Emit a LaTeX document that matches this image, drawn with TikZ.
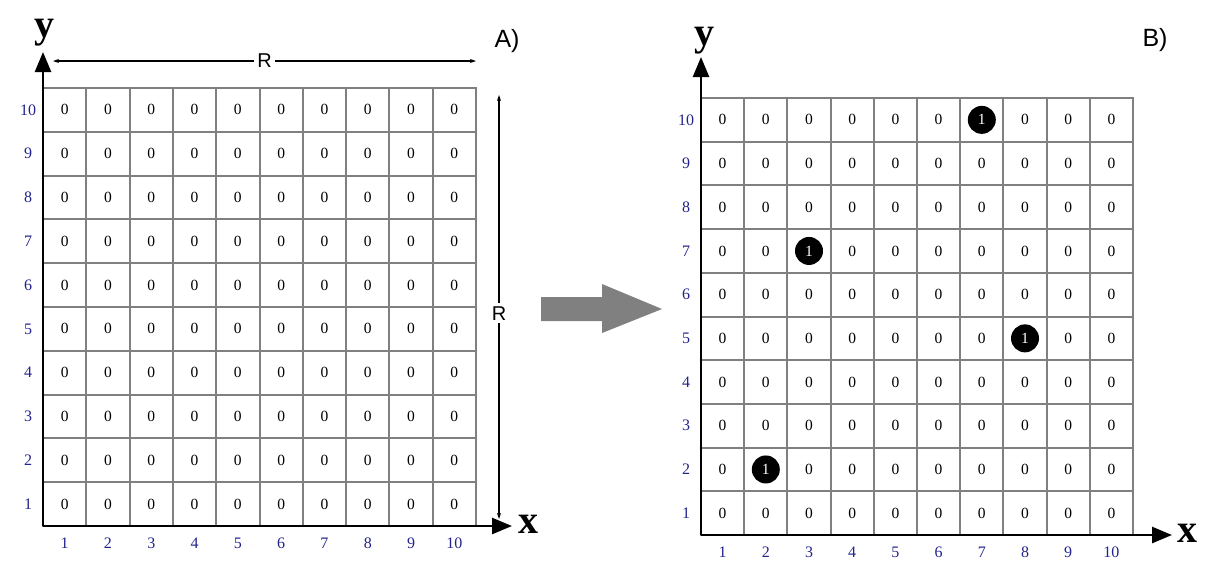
\documentclass[tikz,border=0pt]{standalone}
\usepackage{fontspec}
\setmainfont{Liberation Serif}
\newfontfamily\arialfont{Liberation Sans}
\usepackage{tikz}
\usetikzlibrary{positioning, arrows.meta}
\definecolor{gridgray}{RGB}{128,128,128}
\definecolor{ticknavy}{RGB}{35,35,140}

\begin{document}
\begin{tikzpicture}[x=1pt,y=-1pt,>=Stealth,semithick]
\tikzstyle{cellbox}=[draw=gridgray,line width=2pt,minimum width=43.3pt,minimum height=43.7pt,inner sep=0pt,font=\fontsize{15.5}{15.5}\selectfont]
\tikzstyle{onedot}=[circle,fill=black,text=white,minimum size=28pt,inner sep=0pt,font=\fontsize{15.5}{15.5}\selectfont]
\tikzstyle{ticklabel}=[text=ticknavy,font=\fontsize{16}{16}\selectfont]
\tikzstyle{axisline}=[line width=2.6pt,-{Triangle[width=16pt,length=20pt]}]
\tikzstyle{axislabel}=[font=\fontsize{40}{40}\selectfont\bfseries]
\tikzstyle{dimline}=[line width=1.1pt,{Stealth[length=6pt,width=4pt]}-{Stealth[length=6pt,width=4pt]}]
\tikzstyle{rlabel}=[fill=white,inner sep=3pt,font=\arialfont\fontsize{20}{20}\selectfont]
\tikzstyle{panellabel}=[font=\arialfont\fontsize{25}{25}\selectfont]
\useasboundingbox (0,0) rectangle (1212,566);

% A) empty grid
\foreach \i in {1,...,10}
  \foreach \j in {1,...,10}
    \node[cellbox] (a-\i-\j) at ({43+43.3*(\i-0.5)},{88+43.8*(10.5-\j)}) {0};
\foreach \k in {1,...,10}{
  \node[ticklabel] (a-c\k) at ({43+43.3*(\k-0.5)},543) {\k};
  \node[ticklabel] (a-r\k) at (28,{88+43.8*(10.5-\k)}) {\k};
}
\coordinate (a-o) at (43,526);
\coordinate (a-ytip) at (43,52);
\coordinate (a-xtip) at (512,526);
\draw[axisline] (a-o) -- (a-ytip);
\draw[axisline] (a-o) -- (a-xtip);
\node[axislabel] (a-y) at (44,33) {y};
\node[axislabel] (a-x) at (528,524) {x};
\coordinate (rh-l) at (53,61);
\coordinate (rh-r) at (476,61);
\draw[dimline] (rh-l) -- node[rlabel] (rh) {R} (rh-r);
\coordinate (rv-t) at (499,95);
\coordinate (rv-b) at (499,519);
\draw[dimline] (rv-t) -- node[rlabel,pos=0.515] (rv) {R} (rv-b);
\node[panellabel] (pa) at (507,41) {A)};

% big arrow
\fill[gridgray] (541,297) -- (602,297) -- (602,284) -- (662,309) -- (602,333) -- (602,321) -- (541,321) -- cycle;

% B) grid with ones
\foreach \i in {1,...,10}
  \foreach \j in {1,...,10}{
    \pgfmathtruncatemacro\isone{(\i==3&&\j==7)||(\i==2&&\j==2)||(\i==8&&\j==5)||(\i==7&&\j==10)}
    \ifnum\isone=1
      \node[cellbox] (b-\i-\j) at ({701+43.2*(\i-0.5)},{98+43.7*(10.5-\j)}) {};
      \node[onedot] (d-\i-\j) at (b-\i-\j) {1};
    \else
      \node[cellbox] (b-\i-\j) at ({701+43.2*(\i-0.5)},{98+43.7*(10.5-\j)}) {0};
    \fi
  }
\foreach \k in {1,...,10}{
  \node[ticklabel] (b-c\k) at ({701+43.2*(\k-0.5)},552) {\k};
  \node[ticklabel] (b-r\k) at (686,{98+43.7*(10.5-\k)}) {\k};
}
\coordinate (b-o) at (701,535);
\coordinate (b-ytip) at (701,57);
\coordinate (b-xtip) at (1172,535);
\draw[axisline] (b-o) -- (b-ytip);
\draw[axisline] (b-o) -- (b-xtip);
\node[axislabel] (b-y) at (704,41) {y};
\node[axislabel] (b-x) at (1187,533) {x};
\node[panellabel] (pb) at (1155,40) {B)};
\end{tikzpicture}
\end{document}
